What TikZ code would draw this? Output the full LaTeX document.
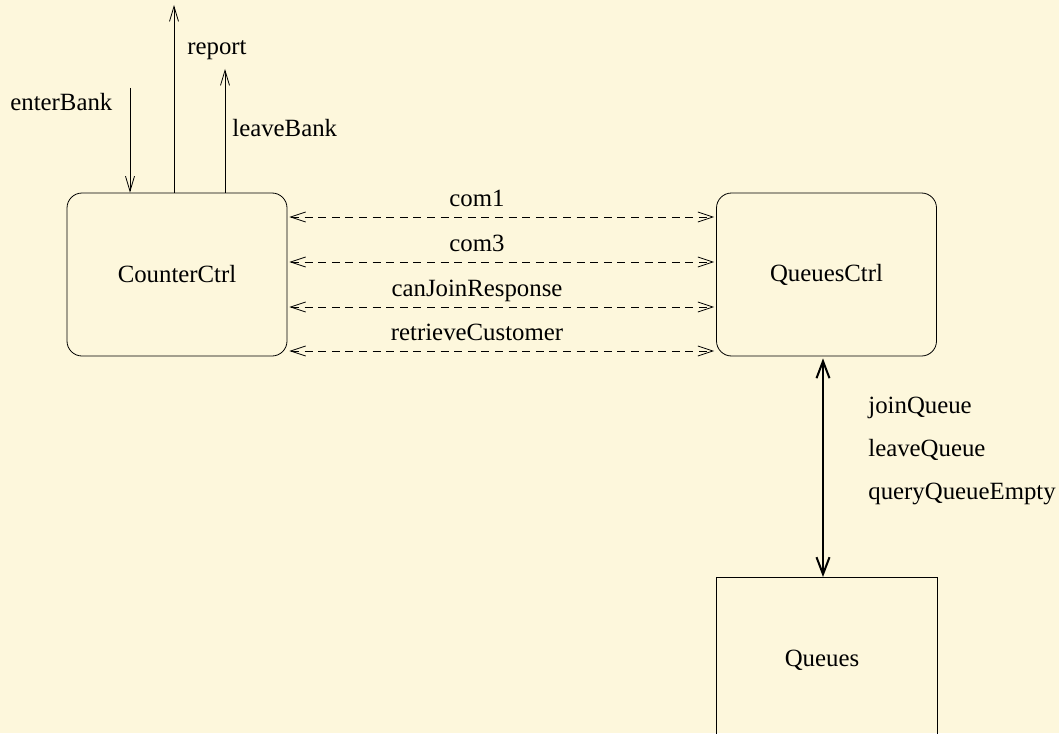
\documentclass[tikz,border=0pt]{standalone}
\usepackage{fontspec}
\setmainfont{Liberation Serif}
\usetikzlibrary{arrows.meta}
\definecolor{bg}{RGB}{253,247,220}
\begin{document}
\begin{tikzpicture}[x=0.5pt,y=-0.5pt,
  every node/.style={font=\fontsize{12.4}{14}\selectfont, inner sep=0pt},
  ctrl/.style={draw, rounded corners=7.5pt, minimum width=110pt, minimum height=81.5pt},
  box/.style={draw, minimum width=110.5pt, minimum height=100pt},
  tip/.style={-{Straight Barb[length=7.5pt,width=4.5pt]}},
  dtip/.style={{Straight Barb[length=7.5pt,width=5pt]}-{Straight Barb[length=7.5pt,width=5pt]}},
  btip/.style={{Straight Barb[length=8.5pt,width=6.5pt]}-{Straight Barb[length=8.5pt,width=6.5pt]}},
  msg/.style={dash pattern=on 4pt off 2.8pt, dtip},
  lbl/.style={anchor=base west}]
\fill[bg] (0,0) rectangle (1059,733);
\useasboundingbox (0,0) rectangle (1059,733);
\begin{scope}
\clip (0,0) rectangle (1059,733);
\node[ctrl] (cc) at (177,274.5) {CounterCtrl};
\node[ctrl] (qc) at (826.5,274.5) {QueuesCtrl};
\node[box, anchor=north] (q) at (826.5,577) {};
\node at (822,660) {Queues};

% top arrows
\coordinate (eb) at (130,88);
\coordinate (rp) at (174,5);
\coordinate (lb) at (225,69);
\draw[tip] (eb) -- (eb |- cc.north);
\draw[tip] (rp |- cc.north) -- (rp);
\draw[tip] (lb |- cc.north) -- (lb);
\node[lbl] at (10,111) {enterBank};
\node[lbl] at (187,55) {report};
\node[lbl] at (232,136) {leaveBank};

% dashed messages
\foreach \yy/\t in {217/com1, 262/com3, 307/canJoinResponse, 351/retrieveCustomer}{
  \draw[msg] ([xshift=1pt]cc.east |- 0,\yy) -- ([xshift=-1pt]qc.west |- 0,\yy);
  \node[anchor=base] at (477,{\yy-11}) {\t};
}

% queues link
\draw[btip, line width=1pt] ([yshift=-1pt]qc.south -| 823,0) -- (q.north -| 823,0);
\node[lbl] at (868,413) {joinQueue};
\node[lbl] at (868,456) {leaveQueue};
\node[lbl] at (868,499) {queryQueueEmpty};
\end{scope}
\end{tikzpicture}
\end{document}
